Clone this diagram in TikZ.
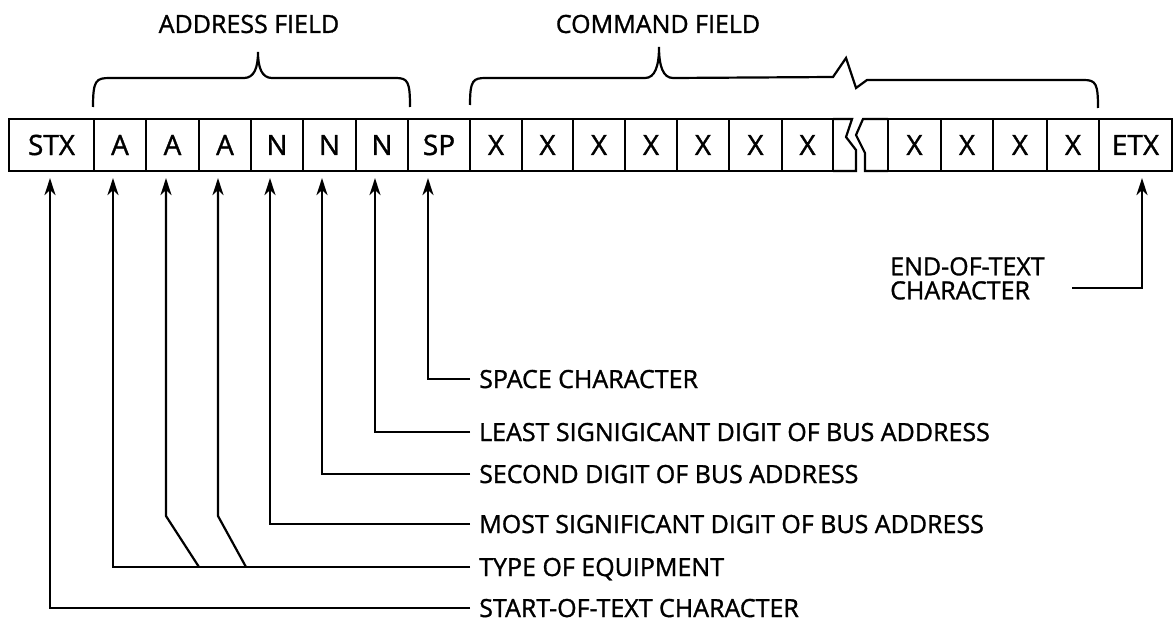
\documentclass[tikz,border=0pt]{standalone}
\usepackage{fontspec}
\setmainfont{Open Sans}[FakeBold=1.2]
\usetikzlibrary{arrows.meta}
\begin{document}
\begin{tikzpicture}[x=1pt,y=-1pt,
  ln/.style={line width=2.2pt},
  cell/.style={draw, line width=2.2pt, minimum height=52pt, inner sep=0pt,
    font=\fontsize{28}{28}\selectfont},
  arr/.style={line width=2.2pt, -{Stealth[length=17pt,width=11pt,inset=5pt]}, shorten >=6pt},
  lbl/.style={anchor=west, inner xsep=9pt, inner ysep=0pt, text height=18pt, text depth=0pt,
    font=\fontsize{25}{25}\selectfont},
  hdr/.style={inner sep=0pt, font=\fontsize{25}{25}\selectfont}
]
\fill[white] (0,0) rectangle (1174,623);
\useasboundingbox (0,0) rectangle (1174,623);

% cells
\foreach \n/\l/\r/\t in {stx/9/94/STX, a1/94/146/A, a2/146/199/A, a3/199/251/A,
  n1/251/303/N, n2/303/356/N, n3/356/408/N, sp/408/470/SP,
  x1/470/522/X, x2/522/573/X, x3/573/625/X, x4/625/677/X, x5/677/729/X, x6/729/782/X, x7/782/833/X,
  x8/888/941/X, x9/941/993/X, x10/993/1047/X, x11/1047/1099/X, etx/1099/1172/ETX}
  \node[cell, minimum width={(\r-\l)*1pt}] (\n) at ({(\l+\r)/2},145) {\t};

% broken stubs
\draw[ln] (833,119) -- (852,119) -- (846,137) -- (856,150) -- (856,171) -- (833,171);
\draw[ln] (888,119) -- (863,119) -- (856,135) -- (865,153) -- (865,171) -- (888,171);

% headers and braces
\node[hdr] (addr) at (249,24) {ADDRESS FIELD};
\node[hdr] (cmd) at (658,24) {COMMAND FIELD};
\draw[ln] (93,107) .. controls (93,80) and (96,78) .. (110,78) -- (244,78)
  .. controls (254,78) and (258,68) .. (258,52)
  .. controls (258,68) and (262,78) .. (272,78) -- (396,78)
  .. controls (408,78) and (410,82) .. (410,107);
\draw[ln] (470,105) .. controls (470,80) and (473,78) .. (486,78) -- (645,78)
  .. controls (655,78) and (659,66) .. (659,47)
  .. controls (659,66) and (663,78) .. (673,78) -- (833,77) -- (846,58) -- (856,88) -- (867,80) -- (1084,80)
  .. controls (1096,80) and (1098,84) .. (1098,108);

% labels
\node[lbl] (lsp) at (470,379) {SPACE CHARACTER};
\node[lbl] (lls) at (470,432) {LEAST SIGNIGICANT DIGIT OF BUS ADDRESS};
\node[lbl] (lsec) at (470,474) {SECOND DIGIT OF BUS ADDRESS};
\node[lbl] (lmost) at (470,524) {MOST SIGNIFICANT DIGIT OF BUS ADDRESS};
\node[lbl] (ltype) at (470,567) {TYPE OF EQUIPMENT};
\node[lbl] (lstx) at (470,608) {START-OF-TEXT CHARACTER};
\node[anchor=north west, align=left, inner sep=0pt, font=\fontsize{25}{24}\selectfont]
  (letx) at (890,257) {END-OF-TEXT\\CHARACTER};

% connectors
\draw[arr] (lsp.west) -| ([xshift=-11pt]sp.south);
\draw[arr] (lls.west) -| ([xshift=-7pt]n3.south);
\draw[arr] (lsec.west) -| ([xshift=-7.5pt]n2.south);
\draw[arr] (lmost.west) -| ([xshift=-7pt]n1.south);
\draw[arr] (ltype.west) -| ([xshift=-7pt]a1.south);
\coordinate (ta2) at (199,567);
\coordinate (ta3) at (246,567);
\draw[arr] (ta2) -- (166,516) -- ([xshift=-6.5pt]a2.south);
\draw[arr] (ta3) -- (218,516) -- ([xshift=-7pt]a3.south);
\draw[arr] (lstx.west) -| ([xshift=-1.5pt]stx.south);
\coordinate (etxc) at (1072,288);
\draw[arr] (etxc) -| ([xshift=6.5pt]etx.south);
\end{tikzpicture}
\end{document}
